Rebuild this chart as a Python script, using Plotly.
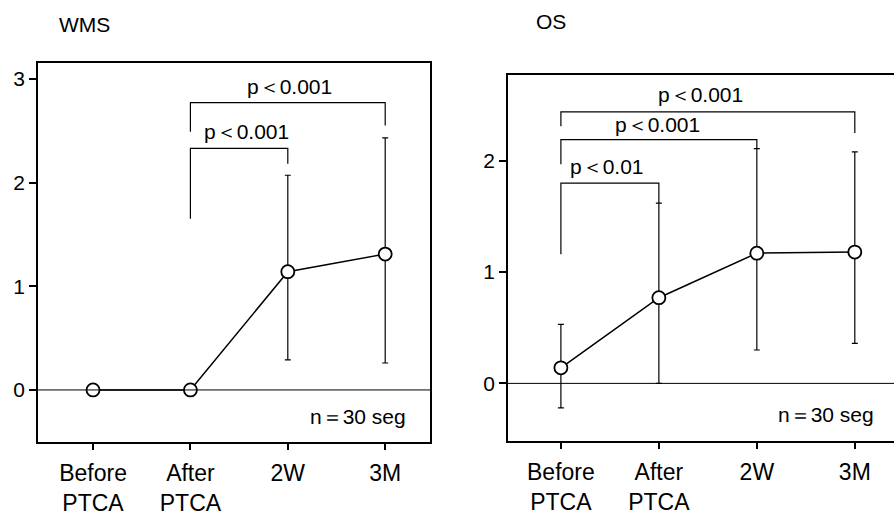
import plotly.graph_objects as go

# ---- data ----
tick_labels = ["Before<br>PTCA", "After<br>PTCA", "2W", "3M"]
x_pos = [0, 1, 2, 3]

wms_mean = [0.0, 0.0, 1.14, 1.31]
wms_upper = [None, None, 2.07, 2.43]
wms_lower = [None, None, 0.29, 0.26]

os_mean = [0.14, 0.77, 1.17, 1.18]
os_upper = [0.53, 1.62, 2.11, 2.08]
os_lower = [-0.22, 0.0, 0.30, 0.36]

# brackets: (x_left, y_left_end, x_right, y_right_end, y_bar, label, label_x, label_y)
wms_brackets = [
    (1, 1.65, 2, 2.18, 2.33, "p＜0.001", 1.58, 2.49),
    (1, 2.49, 3, 2.55, 2.77, "p＜0.001", 2.02, 2.93),
]
os_brackets = [
    (0, 1.16, 1, 1.62, 1.80, "p＜0.01", 0.47, 1.95),
    (0, 1.97, 2, 2.11, 2.19, "p＜0.001", 0.99, 2.33),
    (0, 2.31, 3, 2.25, 2.44, "p＜0.001", 1.42, 2.60),
]
n_label = "n＝30 seg"
titles = ["WMS", "OS"]

FONT = "Liberation Sans, Arial, Helvetica, sans-serif"
W, H = 894, 516


def px(x):
    return x / W


def py(y):
    return 1 - y / H


def err(mean, upper, lower):
    plus = [None if u is None else u - m for m, u in zip(mean, upper)]
    minus = [None if l is None else m - l for m, l in zip(mean, lower)]
    return plus, minus


fig = go.Figure()

for mean, upper, lower, xa, ya in [
    (wms_mean, wms_upper, wms_lower, "x", "y"),
    (os_mean, os_upper, os_lower, "x2", "y2"),
]:
    plus, minus = err(mean, upper, lower)
    fig.add_trace(go.Scatter(
        x=x_pos, y=mean, xaxis=xa, yaxis=ya, mode="lines+markers",
        line=dict(color="black", width=1.5),
        marker=dict(size=13, color="white", line=dict(color="black", width=1.8)),
        error_y=dict(type="data", symmetric=False, array=plus, arrayminus=minus,
                     color="black", thickness=1.2, width=3),
        showlegend=False, cliponaxis=False,
    ))

shapes = []
annotations = []
for brackets, xr, yr in [(wms_brackets, "x", "y"), (os_brackets, "x2", "y2")]:
    for (xl, yl, xrt, yrt, yb, lab, lx, ly) in brackets:
        shapes.append(dict(type="path", xref=xr, yref=yr,
                           path=f"M {xl},{yl} L {xl},{yb} L {xrt},{yb} L {xrt},{yrt}",
                           line=dict(color="black", width=1.2)))
        annotations.append(dict(x=lx, y=ly, xref=xr, yref=yr, text=lab, showarrow=False,
                                font=dict(size=21, color="black", family=FONT)))
    shapes.append(dict(type="line", xref=xr, yref=yr,
                       x0=-1, x1=4, y0=0, y1=0, line=dict(color="black", width=1)))

annotations.append(dict(x=3.23, y=-0.26, xref="x", yref="y", text=n_label, showarrow=False,
                        xanchor="right", font=dict(size=21, color="black", family=FONT)))
annotations.append(dict(x=3.22, y=-0.28, xref="x2", yref="y2", text=n_label, showarrow=False,
                        xanchor="right", font=dict(size=21, color="black", family=FONT)))
annotations.append(dict(x=px(57), y=py(25), xref="paper", yref="paper", text=titles[0],
                        showarrow=False, xanchor="left", yanchor="middle",
                        font=dict(size=21, color="black", family=FONT)))
annotations.append(dict(x=px(534), y=py(22), xref="paper", yref="paper", text=titles[1],
                        showarrow=False, xanchor="left", yanchor="middle",
                        font=dict(size=21, color="black", family=FONT)))

xcommon = dict(tickvals=x_pos, ticktext=tick_labels, ticks="outside", ticklen=6, tickwidth=2,
               tickcolor="black", showgrid=False, zeroline=False, showline=True,
               linecolor="black", linewidth=1.5, ticklabelstandoff=4,
               tickfont=dict(size=23, color="black", family=FONT))
ycommon = dict(ticks="outside", ticklen=7, tickwidth=2, tickcolor="black", showgrid=False,
               zeroline=False, showline=True, linecolor="black", linewidth=1.5,
               tickfont=dict(size=21, color="black", family=FONT))

fig.update_layout(
    width=W, height=H, margin=dict(l=0, r=0, t=0, b=0),
    paper_bgcolor="white", plot_bgcolor="white",
    xaxis=dict(xcommon, domain=[px(38), px(430)], range=[-0.565, 3.46],
               anchor="y", mirror=True),
    yaxis=dict(ycommon, domain=[py(447), py(64)], range=[-0.50, 3.15],
               tickvals=[0, 1, 2, 3], anchor="x", mirror=True),
    xaxis2=dict(xcommon, domain=[px(508), 1.0], range=[-0.54, 3.40],
                anchor="y2", mirror=True),
    yaxis2=dict(ycommon, domain=[py(446), py(76)], range=[-0.516, 2.77],
                tickvals=[0, 1, 2], anchor="x2", mirror=False),
    shapes=shapes, annotations=annotations,
)

fig.write_html("out.html", config={"displayModeBar": False},
               post_script="document.body.style.margin='0';document.body.style.overflow='hidden';")
